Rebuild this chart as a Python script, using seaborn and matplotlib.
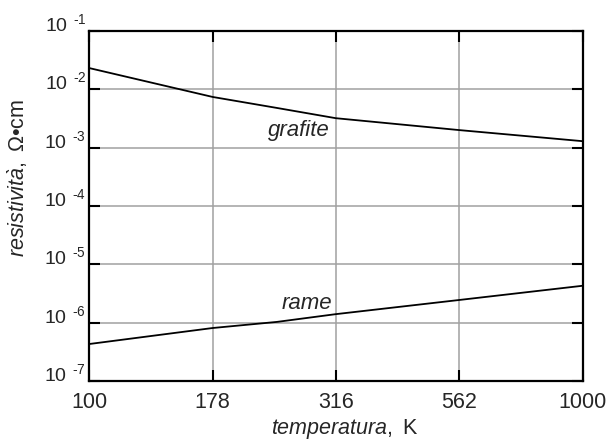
import math
import pandas as pd
import seaborn as sns
import matplotlib.pyplot as plt
from matplotlib.ticker import FixedLocator, FuncFormatter, NullLocator

# values (log-log resistivity vs temperature)
temperatura = [100, 178, 240, 316, 562, 1000]
grafite = [0.0232, 0.0074, 0.0048, 0.0032, 0.0020, 0.00129]
rame = [4.3e-7, 8.1e-7, 1.03e-6, 1.4e-6, 2.45e-6, 4.3e-6]
x_ticks = [100, 178, 316, 562, 1000]
y_exps = [-7, -6, -5, -4, -3, -2, -1]

df = pd.DataFrame({
    "T": temperatura * 2,
    "rho": grafite + rame,
    "materiale": ["grafite"] * len(temperatura) + ["rame"] * len(temperatura),
})

sns.set_style("ticks")
plt.rcParams["font.family"] = ["Liberation Sans", "DejaVu Sans"]
plt.rcParams["mathtext.fontset"] = "custom"
plt.rcParams["mathtext.rm"] = "Liberation Sans"
plt.rcParams["mathtext.it"] = "Liberation Sans:italic"

fig = plt.figure(figsize=(6.06, 4.44), dpi=100)
ax = fig.add_axes([89 / 606, 1 - 381 / 444, (583 - 89) / 606, (381 - 31) / 444])

sns.lineplot(data=df, x="T", y="rho", hue="materiale",
             palette={"grafite": "black", "rame": "black"},
             linewidth=1.3, legend=False, ax=ax)

ax.set_xscale("log")
ax.set_yscale("log")
ax.set_xlim(100, 1000)
ax.set_ylim(1e-7, 1e-1)

ax.xaxis.set_major_locator(FixedLocator(x_ticks))
ax.xaxis.set_minor_locator(NullLocator())
ax.xaxis.set_major_formatter(FuncFormatter(lambda v, p: f"{v:.0f}"))
ax.yaxis.set_major_locator(FixedLocator([10.0 ** e for e in y_exps]))
ax.yaxis.set_minor_locator(NullLocator())
ax.yaxis.set_major_formatter(
    FuncFormatter(lambda v, p: r"$10^{\;\;\text{-}%d}$" % abs(round(math.log10(v)))))

ax.grid(True, color="#a0a0a0", linewidth=1.1)
ax.tick_params(which="major", direction="in", length=8, width=1.5,
               top=True, right=True, color="black")
ax.tick_params(axis="x", pad=8, labelsize=15.5)
ax.tick_params(axis="y", pad=2, labelsize=14)
for lab in ax.get_yticklabels():
    lab.set_verticalalignment("baseline")
for s in ax.spines.values():
    s.set_linewidth(1.6)
    s.set_color("black")
    s.set_zorder(5)

ax.set_xlabel(r"$\mathit{temperatura,}$ K", fontsize=15.5)
ax.set_ylabel(r"$\mathit{resistivit\grave{a},}$ $\Omega$•cm", fontsize=15.5)
ax.xaxis.set_label_coords(0.517, -0.103)
ax.yaxis.set_label_coords(-0.12, 0.58)

ax.text(266, 1.95e-3, "grafite", style="italic", fontsize=16, ha="center", va="center")
ax.text(276, 2.15e-6, "rame", style="italic", fontsize=16, ha="center", va="center")

fig.savefig("out.png", dpi=100)
